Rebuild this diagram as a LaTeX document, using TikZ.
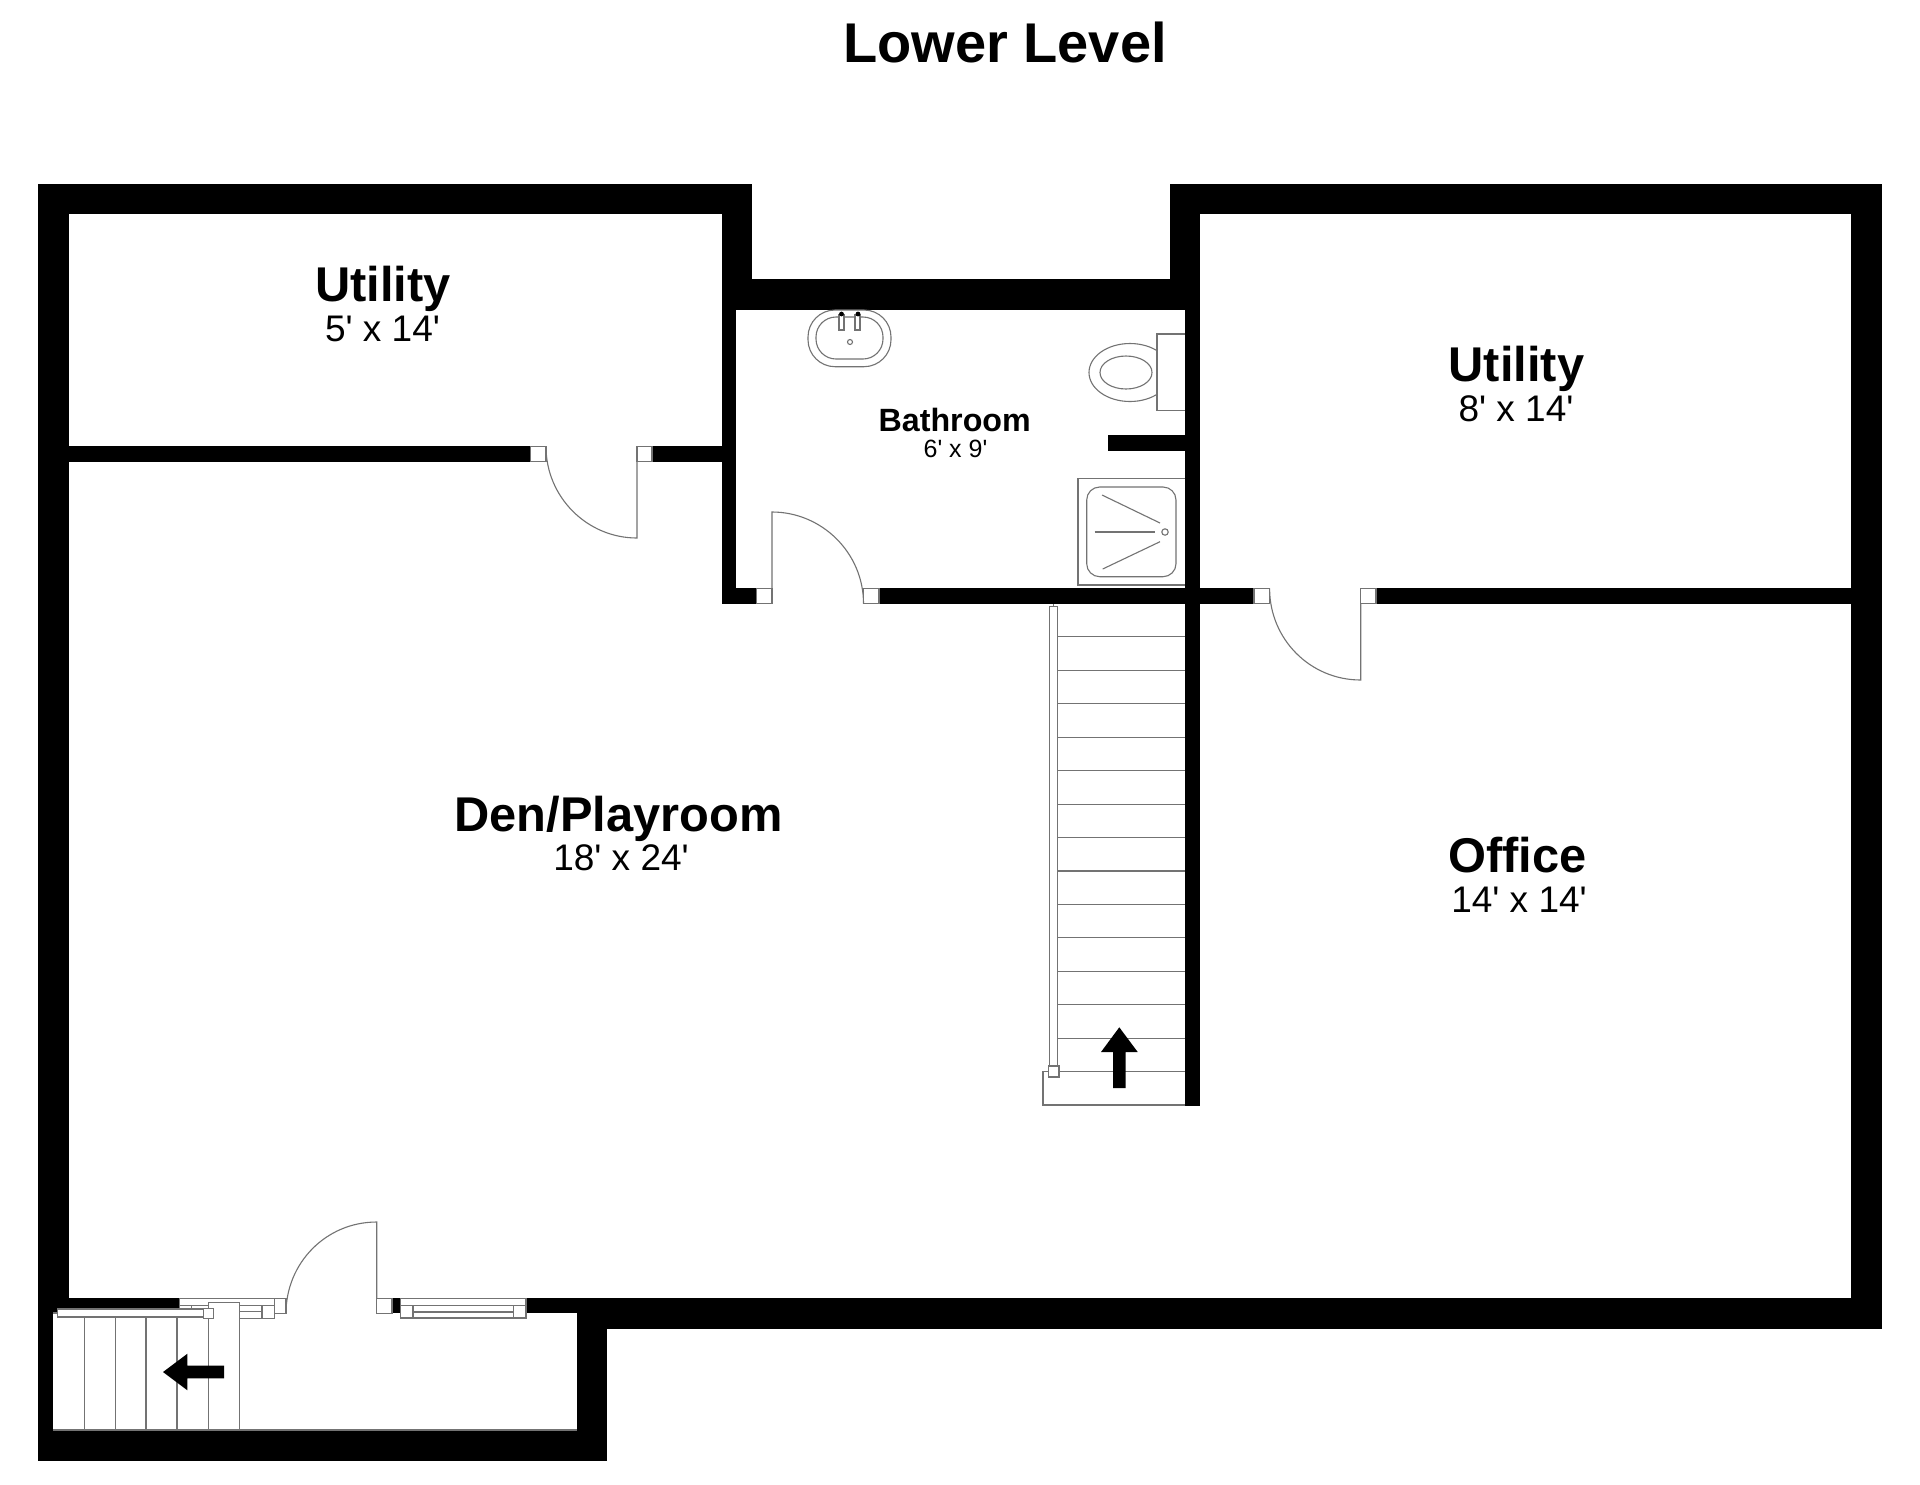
\documentclass[tikz,border=0pt]{standalone}
\usepackage{fontspec}
\newfontfamily\plansans{Liberation Sans}
\tikzset{
  fixture/.style={draw=black!55,line width=1.1pt,fill=white},
  thin line/.style={draw=black!55,line width=1.1pt},
  wall/.style={fill=black,draw=none},
  roomname/.style={anchor=base,inner sep=0pt,font=\plansans\fontsize{48.8}{48.8}\selectfont\bfseries},
  roomsize/.style={anchor=base,inner sep=0pt,font=\plansans\fontsize{37}{37}\selectfont},
}
\begin{document}
\begin{tikzpicture}[x=1pt,y=-1pt]
\useasboundingbox (0,0) rectangle (1920,1484);
\fill[white] (0,0) rectangle (1920,1484);
% walls
\fill[wall] (38.4,184) rectangle (752,214);
\fill[wall] (38.4,184) rectangle (69.3,1309);
\fill[wall] (722,184) rectangle (752,280);
\fill[wall] (722,279.3) rectangle (1200,310);
\fill[wall] (722,279.3) rectangle (736,604);
\fill[wall] (722,588) rectangle (756.7,604);
\fill[wall] (879,588) rectangle (1185,604);
\fill[wall] (1170,184) rectangle (1200,280);
\fill[wall] (1170,184) rectangle (1881.7,214);
\fill[wall] (1851,184) rectangle (1881.7,1329.3);
\fill[wall] (1185,280) rectangle (1200,1106);
\fill[wall] (1200,588) rectangle (1254,604);
\fill[wall] (1376,588) rectangle (1851,604);
\fill[wall] (69,446) rectangle (530.7,462);
\fill[wall] (652,446) rectangle (722,462);
\fill[wall] (1108,434.7) rectangle (1185,450.7);
\fill[wall] (526,1298.3) rectangle (576.5,1313);
\fill[wall] (576.5,1298.3) rectangle (1881.7,1329.3);
\fill[wall] (392,1298.3) rectangle (400.7,1313);
\fill[wall] (38.4,1298.3) rectangle (179.3,1313);
\fill[wall] (38.4,1298.3) rectangle (53.3,1461);
\fill[wall] (38.4,1430) rectangle (607,1461);
\fill[wall] (576.5,1298.3) rectangle (607,1461);
% door jamb squares
\draw[fixture] (530.7,446.5) rectangle (546,461.5);
\draw[fixture] (637,446.5) rectangle (652,461.5);
\draw[fixture] (756.7,588.5) rectangle (772,603.5);
\draw[fixture] (863.5,588.5) rectangle (879,603.5);
\draw[fixture] (1254,588.5) rectangle (1269.6,603.5);
\draw[fixture] (1360.7,588.5) rectangle (1376,603.5);
\draw[fixture] (376.7,1298.3) rectangle (392,1313.3);
% door swings
\draw[thin line] (637,461.5) -- (637,538) .. controls (587,538) and (546,497) .. (546,446.5);
\draw[thin line] (772,588.5) -- (772,512) .. controls (822,512) and (863.5,553) .. (863.5,603.5);
\draw[thin line] (1360.7,603.5) -- (1360.7,680) .. controls (1310,680) and (1269.6,639) .. (1269.6,588.5);
\draw[thin line] (376.7,1298.3) -- (376.7,1222) .. controls (326,1222) and (286,1263) .. (286,1313.3);
% sink
\draw[thin line,rounded corners=27pt] (808,310) rectangle (891,366.7);
\draw[thin line,rounded corners=20pt] (816,317) rectangle (883,359);
\draw[fixture] (839,315) rectangle (844,330);
\draw[fixture] (855,315) rectangle (860,330);
\fill[black] (841.5,314) circle[radius=2.4];
\fill[black] (858,314) circle[radius=2.4];
\draw[thin line] (850,342) circle[radius=2.5];
% toilet
\begin{scope}
\clip (1080,330) rectangle (1157,415);
\draw[thin line] (1130,372.5) ellipse[x radius=41,y radius=29];
\end{scope}
\draw[thin line] (1126,372.5) ellipse[x radius=26,y radius=16.5];
\draw[thin line] (1185,334) -- (1157,334) -- (1157,410.7) -- (1185,410.7);
% shower
\draw[thin line] (1185,478.7) -- (1078,478.7) -- (1078,585) -- (1185,585);
\draw[thin line,rounded corners=13pt] (1086.7,487) rectangle (1176,576.7);
\draw[thin line] (1102,495) -- (1160,523);
\draw[thin line] (1094.7,532) -- (1155,532);
\draw[thin line] (1102.7,569) -- (1160,541.7);
\draw[thin line] (1165,532) circle[radius=3.2];
% main stairs
\draw[thin line] (1053.5,604) -- (1053.5,606.7);
\draw[fixture] (1049.3,606.7) rectangle (1057.7,1066);
\foreach \k in {1,...,13}{
  \draw[thin line] (1057.7,{1071.7-33.45*\k}) -- (1185,{1071.7-33.45*\k});
}
\draw[thin line] (1185,1071.7) -- (1043,1071.7) -- (1043,1105) -- (1185,1105);
\draw[fixture] (1048.7,1066) rectangle (1059,1077);
\fill[black] (1119.3,1027.3) -- (1137.7,1052) -- (1125.7,1052) -- (1125.7,1088) -- (1113,1088) -- (1113,1052) -- (1101,1052) -- cycle;
% lobby window and door frame (left)
\draw[fixture] (179.3,1298.3) rectangle (274.7,1305.7);
\draw[thin line] (179.3,1298.3) -- (179.3,1309);
\draw[thin line] (191.3,1305.7) -- (191.3,1309);
\draw[fixture] (239.7,1305.7) rectangle (262,1311.7);
\draw[fixture] (239.7,1311.7) rectangle (262,1318.3);
\draw[fixture] (262,1305.7) rectangle (274.7,1318.3);
\draw[fixture] (274.7,1298.3) rectangle (286,1313.3);
% lobby stairs
\draw[thin line] (53.3,1313) -- (57.5,1313);
\foreach \x in {84.2,115.2,146,177}{
  \draw[thin line] (\x,1317) -- (\x,1430);
}
\draw[fixture] (208.5,1302.7) rectangle (239.7,1430);
\draw[fixture] (57.5,1309) rectangle (203.7,1317);
\draw[fixture] (203.7,1308.3) rectangle (213.7,1318.3);
\draw[thin line] (53.3,1430) -- (576.5,1430);
\draw[thin line] (208.5,1318.3) -- (208.5,1430);
\fill[black] (163,1372) -- (187.4,1353.7) -- (187.4,1365.7) -- (224,1365.7) -- (224,1378.3) -- (187.4,1378.3) -- (187.4,1390.3) -- cycle;
% right window
\draw[fixture] (400.7,1298.3) rectangle (526,1305.7);
\draw[fixture] (413,1305.7) rectangle (513.7,1312);
\draw[fixture] (413,1312) rectangle (513.7,1318);
\draw[fixture] (400.7,1305.7) rectangle (413,1318);
\draw[fixture] (513.7,1305.7) rectangle (526,1318);
% labels
\node[anchor=base,inner sep=0pt,font=\plansans\fontsize{56}{56}\selectfont\bfseries] (title) at (1005,62.2) {Lower Level};
\node[roomname] (utilA) at (383,301) {Utility};
\node[roomsize] (utilAs) at (382.5,341) {5' x 14'};
\node[roomname] (utilB) at (1516.5,381) {Utility};
\node[roomsize] (utilBs) at (1516,421) {8' x 14'};
\node[roomname] (den) at (618.5,831) {Den/Playroom};
\node[roomsize] (dens) at (621,870) {18' x 24'};
\node[roomname] (office) at (1517.2,872) {Office};
\node[roomsize] (offices) at (1519,912) {14' x 14'};
\node[anchor=base,inner sep=0pt,font=\plansans\fontsize{32.2}{32.2}\selectfont\bfseries] (bath) at (954.7,431.7) {Bathroom};
\node[anchor=base,inner sep=0pt,font=\plansans\fontsize{25}{25}\selectfont] (baths) at (955.5,457) {6' x 9'};
\end{tikzpicture}
\end{document}
